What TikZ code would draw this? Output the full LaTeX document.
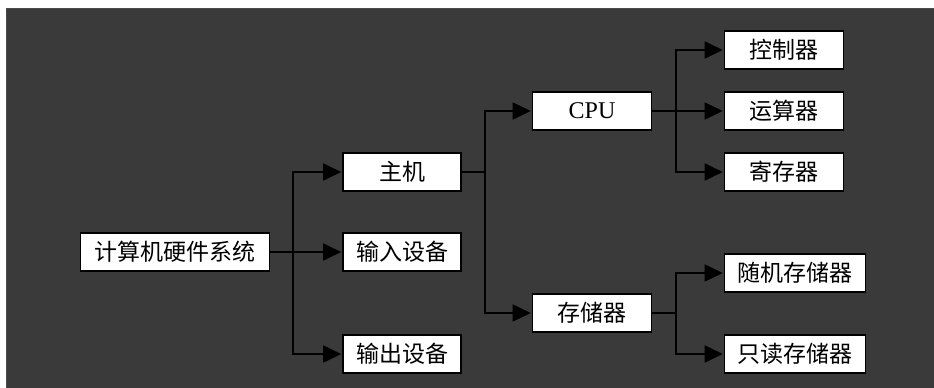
\documentclass[tikz,border=0pt]{standalone}
\usepackage{fontspec}
\setmainfont{Liberation Serif}
\newfontfamily\cjk{Noto Sans CJK SC}
\usetikzlibrary{arrows.meta}
\definecolor{bgdark}{RGB}{58,58,58}
\tikzset{
  box/.style={draw=black, line width=1.6pt, fill=white, minimum height=38pt, inner sep=0pt, font=\cjk\fontsize{23}{23}\selectfont},
  conn/.style={draw=black, line width=1.8pt},
  arr/.style={conn, -{Triangle[length=18pt,width=17pt]}, shorten >=1pt}
}
\begin{document}
\begin{tikzpicture}[x=1pt,y=-1pt]
\useasboundingbox (0,0) rectangle (934,388);
\fill[white] (0,0) rectangle (934,388);
\fill[bgdark] (6,8) rectangle (934,388);
\draw[black!70, line width=0.8pt] (6,388) -- (6,8) -- (934,8);
% nodes
\node[box, minimum width=189pt] (hw) at (175,252) {计算机硬件系统};
\node[box, minimum width=118pt] (host) at (402,172) {主机};
\node[box, minimum width=118pt] (in) at (402,252) {输入设备};
\node[box, minimum width=118pt] (out) at (402,354) {输出设备};
\node[box, minimum width=119pt, font=\fontsize{24}{24}\selectfont] (cpu) at (592,111) {CPU};
\node[box, minimum width=119pt] (mem) at (592,313) {存储器};
\node[box, minimum width=119pt] (ctl) at (784,50) {控制器};
\node[box, minimum width=119pt] (alu) at (784,111) {运算器};
\node[box, minimum width=119pt] (reg) at (784,172) {寄存器};
\node[box, minimum width=141pt] (ram) at (795,273) {随机存储器};
\node[box, minimum width=141pt] (rom) at (795,354) {只读存储器};
% junction coordinates
\coordinate (j1) at (293,252);
\coordinate (j2) at (485,172);
\coordinate (j3) at (676,111);
\coordinate (j4) at (676,313);
% connectors
\draw[conn] (hw.east) -- (j1);
\draw[arr] (j1) |- (host.west);
\draw[arr] (j1) -- (in.west);
\draw[arr] (j1) |- (out.west);
\draw[conn] (host.east) -- (j2);
\draw[arr] (j2) |- (cpu.west);
\draw[arr] (j2) |- (mem.west);
\draw[conn] (cpu.east) -- (j3);
\draw[arr] (j3) |- (ctl.west);
\draw[arr] (j3) -- (alu.west);
\draw[arr] (j3) |- (reg.west);
\draw[conn] (mem.east) -- (j4);
\draw[arr] (j4) |- (ram.west);
\draw[arr] (j4) |- (rom.west);
\end{tikzpicture}
\end{document}
